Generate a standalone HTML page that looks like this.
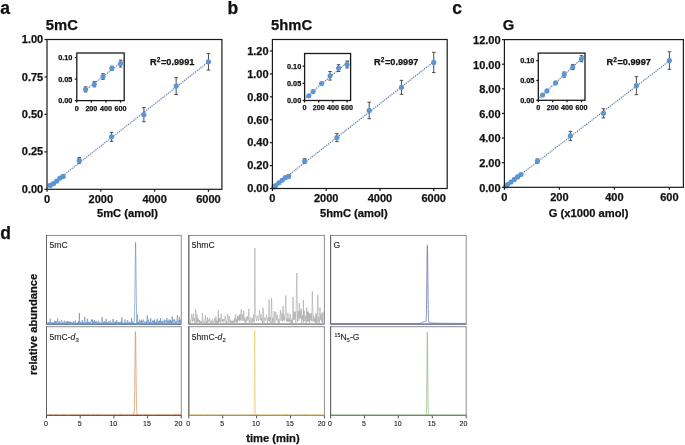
<!DOCTYPE html>
<html><head><meta charset="utf-8"><style>
html,body{margin:0;padding:0;background:#fff;}
body{width:685px;height:445px;overflow:hidden;font-family:"Liberation Sans", sans-serif;}
svg{display:block;will-change:transform;}
</style></head><body>
<svg width="685" height="445" viewBox="0 0 685 445" font-family='"Liberation Sans", sans-serif'>
<rect width="685" height="445" fill="#fff"/>
<text x="0.20" y="13.60" font-size="17.5" font-weight="bold" text-anchor="start" fill="#111" stroke="#111" stroke-width="0.25" >a</text>
<text x="227.60" y="13.60" font-size="17.5" font-weight="bold" text-anchor="start" fill="#111" stroke="#111" stroke-width="0.25" >b</text>
<text x="452.30" y="13.60" font-size="17.5" font-weight="bold" text-anchor="start" fill="#111" stroke="#111" stroke-width="0.25" >c</text>
<text x="0.20" y="238.60" font-size="17.5" font-weight="bold" text-anchor="start" fill="#111" stroke="#111" stroke-width="0.25" >d</text>
<text x="45.80" y="29.70" font-size="14.8" font-weight="bold" text-anchor="start" fill="#111" stroke="#111" stroke-width="0.25" >5mC</text>
<text x="271.00" y="29.70" font-size="14.8" font-weight="bold" text-anchor="start" fill="#111" stroke="#111" stroke-width="0.25" >5hmC</text>
<text x="502.80" y="29.70" font-size="14.8" font-weight="bold" text-anchor="start" fill="#111" stroke="#111" stroke-width="0.25" >G</text>
<line x1="47.00" y1="188.13" x2="208.45" y2="61.81" stroke="#dce8f6" stroke-width="1.6"/>
<line x1="47.00" y1="188.13" x2="208.45" y2="61.81" stroke="#56657c" stroke-width="1.1" stroke-linecap="round" stroke-dasharray="0 2.3"/>
<line x1="79.29" y1="157.54" x2="79.29" y2="163.23" stroke="#4d4d4d" stroke-width="1.0" />
<line x1="77.49" y1="157.54" x2="81.09" y2="157.54" stroke="#4d4d4d" stroke-width="1.0" />
<line x1="77.49" y1="163.23" x2="81.09" y2="163.23" stroke="#4d4d4d" stroke-width="1.0" />
<line x1="111.58" y1="132.38" x2="111.58" y2="141.36" stroke="#4d4d4d" stroke-width="1.0" />
<line x1="109.78" y1="132.38" x2="113.38" y2="132.38" stroke="#4d4d4d" stroke-width="1.0" />
<line x1="109.78" y1="141.36" x2="113.38" y2="141.36" stroke="#4d4d4d" stroke-width="1.0" />
<line x1="143.87" y1="107.66" x2="143.87" y2="121.74" stroke="#4d4d4d" stroke-width="1.0" />
<line x1="142.07" y1="107.66" x2="145.67" y2="107.66" stroke="#4d4d4d" stroke-width="1.0" />
<line x1="142.07" y1="121.74" x2="145.67" y2="121.74" stroke="#4d4d4d" stroke-width="1.0" />
<line x1="176.16" y1="77.70" x2="176.16" y2="94.48" stroke="#4d4d4d" stroke-width="1.0" />
<line x1="174.36" y1="77.70" x2="177.96" y2="77.70" stroke="#4d4d4d" stroke-width="1.0" />
<line x1="174.36" y1="94.48" x2="177.96" y2="94.48" stroke="#4d4d4d" stroke-width="1.0" />
<line x1="208.45" y1="53.58" x2="208.45" y2="70.06" stroke="#4d4d4d" stroke-width="1.0" />
<line x1="206.65" y1="53.58" x2="210.25" y2="53.58" stroke="#4d4d4d" stroke-width="1.0" />
<line x1="206.65" y1="70.06" x2="210.25" y2="70.06" stroke="#4d4d4d" stroke-width="1.0" />
<circle cx="50.23" cy="185.41" r="2.6" fill="#5c95d3"/>
<circle cx="53.46" cy="183.61" r="2.6" fill="#5c95d3"/>
<circle cx="56.69" cy="181.06" r="2.6" fill="#5c95d3"/>
<circle cx="59.92" cy="178.06" r="2.6" fill="#5c95d3"/>
<circle cx="63.14" cy="176.42" r="2.6" fill="#5c95d3"/>
<circle cx="79.29" cy="160.39" r="2.6" fill="#5c95d3"/>
<circle cx="111.58" cy="136.87" r="2.6" fill="#5c95d3"/>
<circle cx="143.87" cy="114.70" r="2.6" fill="#5c95d3"/>
<circle cx="176.16" cy="86.09" r="2.6" fill="#5c95d3"/>
<circle cx="208.45" cy="61.82" r="2.6" fill="#5c95d3"/>
<rect x="47.00" y="39.50" width="174.90" height="149.80" fill="none" stroke="#1a1a1a" stroke-width="1.2"/>
<line x1="47.00" y1="189.30" x2="47.00" y2="191.80" stroke="#1a1a1a" stroke-width="1.2" />
<text x="47.00" y="202.60" font-size="11" font-weight="bold" text-anchor="middle" fill="#111" stroke="#111" stroke-width="0.25" >0</text>
<line x1="100.82" y1="189.30" x2="100.82" y2="191.80" stroke="#1a1a1a" stroke-width="1.2" />
<text x="100.82" y="202.60" font-size="11" font-weight="bold" text-anchor="middle" fill="#111" stroke="#111" stroke-width="0.25" >2000</text>
<line x1="154.63" y1="189.30" x2="154.63" y2="191.80" stroke="#1a1a1a" stroke-width="1.2" />
<text x="154.63" y="202.60" font-size="11" font-weight="bold" text-anchor="middle" fill="#111" stroke="#111" stroke-width="0.25" >4000</text>
<line x1="208.45" y1="189.30" x2="208.45" y2="191.80" stroke="#1a1a1a" stroke-width="1.2" />
<text x="208.45" y="202.60" font-size="11" font-weight="bold" text-anchor="middle" fill="#111" stroke="#111" stroke-width="0.25" >6000</text>
<line x1="44.50" y1="189.30" x2="47.00" y2="189.30" stroke="#1a1a1a" stroke-width="1.2" />
<text x="43.20" y="192.93" font-size="11" font-weight="bold" text-anchor="end" fill="#111" stroke="#111" stroke-width="0.25" >0.00</text>
<line x1="44.50" y1="151.85" x2="47.00" y2="151.85" stroke="#1a1a1a" stroke-width="1.2" />
<text x="43.20" y="155.48" font-size="11" font-weight="bold" text-anchor="end" fill="#111" stroke="#111" stroke-width="0.25" >0.25</text>
<line x1="44.50" y1="114.40" x2="47.00" y2="114.40" stroke="#1a1a1a" stroke-width="1.2" />
<text x="43.20" y="118.03" font-size="11" font-weight="bold" text-anchor="end" fill="#111" stroke="#111" stroke-width="0.25" >0.50</text>
<line x1="44.50" y1="76.95" x2="47.00" y2="76.95" stroke="#1a1a1a" stroke-width="1.2" />
<text x="43.20" y="80.58" font-size="11" font-weight="bold" text-anchor="end" fill="#111" stroke="#111" stroke-width="0.25" >0.75</text>
<line x1="44.50" y1="39.50" x2="47.00" y2="39.50" stroke="#1a1a1a" stroke-width="1.2" />
<text x="43.20" y="43.13" font-size="11" font-weight="bold" text-anchor="end" fill="#111" stroke="#111" stroke-width="0.25" >1.00</text>
<line x1="85.55" y1="89.94" x2="124.20" y2="60.12" stroke="#dce8f6" stroke-width="1.6"/>
<line x1="85.55" y1="89.94" x2="124.20" y2="60.12" stroke="#56657c" stroke-width="1.1" stroke-linecap="round" stroke-dasharray="0 2.3"/>
<line x1="85.55" y1="86.84" x2="85.55" y2="92.00" stroke="#4d4d4d" stroke-width="1.0" />
<line x1="83.85" y1="86.84" x2="87.25" y2="86.84" stroke="#4d4d4d" stroke-width="1.0" />
<line x1="83.85" y1="92.00" x2="87.25" y2="92.00" stroke="#4d4d4d" stroke-width="1.0" />
<line x1="94.30" y1="81.68" x2="94.30" y2="86.84" stroke="#4d4d4d" stroke-width="1.0" />
<line x1="92.60" y1="81.68" x2="96.00" y2="81.68" stroke="#4d4d4d" stroke-width="1.0" />
<line x1="92.60" y1="86.84" x2="96.00" y2="86.84" stroke="#4d4d4d" stroke-width="1.0" />
<line x1="103.05" y1="73.73" x2="103.05" y2="79.32" stroke="#4d4d4d" stroke-width="1.0" />
<line x1="101.35" y1="73.73" x2="104.75" y2="73.73" stroke="#4d4d4d" stroke-width="1.0" />
<line x1="101.35" y1="79.32" x2="104.75" y2="79.32" stroke="#4d4d4d" stroke-width="1.0" />
<line x1="111.80" y1="66.20" x2="111.80" y2="70.50" stroke="#4d4d4d" stroke-width="1.0" />
<line x1="110.10" y1="66.20" x2="113.50" y2="66.20" stroke="#4d4d4d" stroke-width="1.0" />
<line x1="110.10" y1="70.50" x2="113.50" y2="70.50" stroke="#4d4d4d" stroke-width="1.0" />
<line x1="120.55" y1="60.18" x2="120.55" y2="67.06" stroke="#4d4d4d" stroke-width="1.0" />
<line x1="118.85" y1="60.18" x2="122.25" y2="60.18" stroke="#4d4d4d" stroke-width="1.0" />
<line x1="118.85" y1="67.06" x2="122.25" y2="67.06" stroke="#4d4d4d" stroke-width="1.0" />
<circle cx="85.55" cy="89.42" r="2.55" fill="#5c95d3"/>
<circle cx="94.30" cy="84.26" r="2.55" fill="#5c95d3"/>
<circle cx="103.05" cy="76.52" r="2.55" fill="#5c95d3"/>
<circle cx="111.80" cy="68.35" r="2.55" fill="#5c95d3"/>
<circle cx="120.55" cy="63.62" r="2.55" fill="#5c95d3"/>
<rect x="76.80" y="53.00" width="47.40" height="47.60" fill="none" stroke="#1a1a1a" stroke-width="1.3"/>
<line x1="76.80" y1="100.60" x2="76.80" y2="102.60" stroke="#1a1a1a" stroke-width="1.3" />
<text x="76.80" y="110.50" font-size="7.2" font-weight="bold" text-anchor="middle" fill="#111" stroke="#111" stroke-width="0.25" >0</text>
<line x1="91.38" y1="100.60" x2="91.38" y2="102.60" stroke="#1a1a1a" stroke-width="1.3" />
<text x="91.38" y="110.50" font-size="7.2" font-weight="bold" text-anchor="middle" fill="#111" stroke="#111" stroke-width="0.25" >200</text>
<line x1="105.97" y1="100.60" x2="105.97" y2="102.60" stroke="#1a1a1a" stroke-width="1.3" />
<text x="105.97" y="110.50" font-size="7.2" font-weight="bold" text-anchor="middle" fill="#111" stroke="#111" stroke-width="0.25" >400</text>
<line x1="120.55" y1="100.60" x2="120.55" y2="102.60" stroke="#1a1a1a" stroke-width="1.3" />
<text x="120.55" y="110.50" font-size="7.2" font-weight="bold" text-anchor="middle" fill="#111" stroke="#111" stroke-width="0.25" >600</text>
<line x1="74.80" y1="100.60" x2="76.80" y2="100.60" stroke="#1a1a1a" stroke-width="1.3" />
<text x="72.40" y="103.23" font-size="7.3" font-weight="bold" text-anchor="end" fill="#111" stroke="#111" stroke-width="0.25" >0.00</text>
<line x1="74.80" y1="79.10" x2="76.80" y2="79.10" stroke="#1a1a1a" stroke-width="1.3" />
<text x="72.40" y="81.73" font-size="7.3" font-weight="bold" text-anchor="end" fill="#111" stroke="#111" stroke-width="0.25" >0.05</text>
<line x1="74.80" y1="57.60" x2="76.80" y2="57.60" stroke="#1a1a1a" stroke-width="1.3" />
<text x="72.40" y="60.23" font-size="7.3" font-weight="bold" text-anchor="end" fill="#111" stroke="#111" stroke-width="0.25" >0.10</text>
<text x="150.00" y="65.00" font-size="9.2" font-weight="bold" text-anchor="start" fill="#111" stroke="#111" stroke-width="0.25" >R<tspan font-size="6.5" dy="-2.6">2</tspan><tspan dy="2.6" dx="0.7">=0.9991</tspan></text>
<line x1="272.40" y1="187.82" x2="433.75" y2="61.69" stroke="#dce8f6" stroke-width="1.6"/>
<line x1="272.40" y1="187.82" x2="433.75" y2="61.69" stroke="#56657c" stroke-width="1.1" stroke-linecap="round" stroke-dasharray="0 2.3"/>
<line x1="304.67" y1="158.71" x2="304.67" y2="163.29" stroke="#4d4d4d" stroke-width="1.0" />
<line x1="302.87" y1="158.71" x2="306.47" y2="158.71" stroke="#4d4d4d" stroke-width="1.0" />
<line x1="302.87" y1="163.29" x2="306.47" y2="163.29" stroke="#4d4d4d" stroke-width="1.0" />
<line x1="336.94" y1="133.61" x2="336.94" y2="141.63" stroke="#4d4d4d" stroke-width="1.0" />
<line x1="335.14" y1="133.61" x2="338.74" y2="133.61" stroke="#4d4d4d" stroke-width="1.0" />
<line x1="335.14" y1="141.63" x2="338.74" y2="141.63" stroke="#4d4d4d" stroke-width="1.0" />
<line x1="369.21" y1="102.21" x2="369.21" y2="118.71" stroke="#4d4d4d" stroke-width="1.0" />
<line x1="367.41" y1="102.21" x2="371.01" y2="102.21" stroke="#4d4d4d" stroke-width="1.0" />
<line x1="367.41" y1="118.71" x2="371.01" y2="118.71" stroke="#4d4d4d" stroke-width="1.0" />
<line x1="401.48" y1="80.33" x2="401.48" y2="94.31" stroke="#4d4d4d" stroke-width="1.0" />
<line x1="399.68" y1="80.33" x2="403.28" y2="80.33" stroke="#4d4d4d" stroke-width="1.0" />
<line x1="399.68" y1="94.31" x2="403.28" y2="94.31" stroke="#4d4d4d" stroke-width="1.0" />
<line x1="433.75" y1="52.31" x2="433.75" y2="72.59" stroke="#4d4d4d" stroke-width="1.0" />
<line x1="431.95" y1="52.31" x2="435.55" y2="52.31" stroke="#4d4d4d" stroke-width="1.0" />
<line x1="431.95" y1="72.59" x2="435.55" y2="72.59" stroke="#4d4d4d" stroke-width="1.0" />
<circle cx="274.01" cy="186.93" r="2.6" fill="#5c95d3"/>
<circle cx="275.63" cy="185.52" r="2.6" fill="#5c95d3"/>
<circle cx="278.85" cy="182.80" r="2.6" fill="#5c95d3"/>
<circle cx="282.08" cy="180.25" r="2.6" fill="#5c95d3"/>
<circle cx="285.31" cy="177.67" r="2.6" fill="#5c95d3"/>
<circle cx="288.54" cy="176.47" r="2.6" fill="#5c95d3"/>
<circle cx="304.67" cy="161.00" r="2.6" fill="#5c95d3"/>
<circle cx="336.94" cy="137.62" r="2.6" fill="#5c95d3"/>
<circle cx="369.21" cy="110.46" r="2.6" fill="#5c95d3"/>
<circle cx="401.48" cy="87.32" r="2.6" fill="#5c95d3"/>
<circle cx="433.75" cy="62.45" r="2.6" fill="#5c95d3"/>
<rect x="272.40" y="39.50" width="174.80" height="149.00" fill="none" stroke="#1a1a1a" stroke-width="1.2"/>
<line x1="272.40" y1="188.50" x2="272.40" y2="191.00" stroke="#1a1a1a" stroke-width="1.2" />
<text x="272.40" y="201.80" font-size="11" font-weight="bold" text-anchor="middle" fill="#111" stroke="#111" stroke-width="0.25" >0</text>
<line x1="326.18" y1="188.50" x2="326.18" y2="191.00" stroke="#1a1a1a" stroke-width="1.2" />
<text x="326.18" y="201.80" font-size="11" font-weight="bold" text-anchor="middle" fill="#111" stroke="#111" stroke-width="0.25" >2000</text>
<line x1="379.97" y1="188.50" x2="379.97" y2="191.00" stroke="#1a1a1a" stroke-width="1.2" />
<text x="379.97" y="201.80" font-size="11" font-weight="bold" text-anchor="middle" fill="#111" stroke="#111" stroke-width="0.25" >4000</text>
<line x1="433.75" y1="188.50" x2="433.75" y2="191.00" stroke="#1a1a1a" stroke-width="1.2" />
<text x="433.75" y="201.80" font-size="11" font-weight="bold" text-anchor="middle" fill="#111" stroke="#111" stroke-width="0.25" >6000</text>
<line x1="269.90" y1="188.50" x2="272.40" y2="188.50" stroke="#1a1a1a" stroke-width="1.2" />
<text x="268.60" y="192.29" font-size="11" font-weight="bold" text-anchor="end" fill="#111" stroke="#111" stroke-width="0.25" >0.00</text>
<line x1="269.90" y1="165.58" x2="272.40" y2="165.58" stroke="#1a1a1a" stroke-width="1.2" />
<text x="268.60" y="169.38" font-size="11" font-weight="bold" text-anchor="end" fill="#111" stroke="#111" stroke-width="0.25" >0.20</text>
<line x1="269.90" y1="142.66" x2="272.40" y2="142.66" stroke="#1a1a1a" stroke-width="1.2" />
<text x="268.60" y="146.46" font-size="11" font-weight="bold" text-anchor="end" fill="#111" stroke="#111" stroke-width="0.25" >0.40</text>
<line x1="269.90" y1="119.75" x2="272.40" y2="119.75" stroke="#1a1a1a" stroke-width="1.2" />
<text x="268.60" y="123.54" font-size="11" font-weight="bold" text-anchor="end" fill="#111" stroke="#111" stroke-width="0.25" >0.60</text>
<line x1="269.90" y1="96.83" x2="272.40" y2="96.83" stroke="#1a1a1a" stroke-width="1.2" />
<text x="268.60" y="100.62" font-size="11" font-weight="bold" text-anchor="end" fill="#111" stroke="#111" stroke-width="0.25" >0.80</text>
<line x1="269.90" y1="73.91" x2="272.40" y2="73.91" stroke="#1a1a1a" stroke-width="1.2" />
<text x="268.60" y="77.71" font-size="11" font-weight="bold" text-anchor="end" fill="#111" stroke="#111" stroke-width="0.25" >1.00</text>
<line x1="269.90" y1="50.99" x2="272.40" y2="50.99" stroke="#1a1a1a" stroke-width="1.2" />
<text x="268.60" y="54.79" font-size="11" font-weight="bold" text-anchor="end" fill="#111" stroke="#111" stroke-width="0.25" >1.20</text>
<line x1="304.60" y1="98.45" x2="350.60" y2="59.48" stroke="#dce8f6" stroke-width="1.6"/>
<line x1="304.60" y1="98.45" x2="350.60" y2="59.48" stroke="#56657c" stroke-width="1.1" stroke-linecap="round" stroke-dasharray="0 2.3"/>
<line x1="308.85" y1="95.11" x2="308.85" y2="96.49" stroke="#4d4d4d" stroke-width="1.0" />
<line x1="307.15" y1="95.11" x2="310.55" y2="95.11" stroke="#4d4d4d" stroke-width="1.0" />
<line x1="307.15" y1="96.49" x2="310.55" y2="96.49" stroke="#4d4d4d" stroke-width="1.0" />
<line x1="313.09" y1="90.55" x2="313.09" y2="92.61" stroke="#4d4d4d" stroke-width="1.0" />
<line x1="311.39" y1="90.55" x2="314.79" y2="90.55" stroke="#4d4d4d" stroke-width="1.0" />
<line x1="311.39" y1="92.61" x2="314.79" y2="92.61" stroke="#4d4d4d" stroke-width="1.0" />
<line x1="321.58" y1="82.42" x2="321.58" y2="84.48" stroke="#4d4d4d" stroke-width="1.0" />
<line x1="319.88" y1="82.42" x2="323.28" y2="82.42" stroke="#4d4d4d" stroke-width="1.0" />
<line x1="319.88" y1="84.48" x2="323.28" y2="84.48" stroke="#4d4d4d" stroke-width="1.0" />
<line x1="330.08" y1="71.51" x2="330.08" y2="80.09" stroke="#4d4d4d" stroke-width="1.0" />
<line x1="328.38" y1="71.51" x2="331.78" y2="71.51" stroke="#4d4d4d" stroke-width="1.0" />
<line x1="328.38" y1="80.09" x2="331.78" y2="80.09" stroke="#4d4d4d" stroke-width="1.0" />
<line x1="338.57" y1="64.65" x2="338.57" y2="71.51" stroke="#4d4d4d" stroke-width="1.0" />
<line x1="336.87" y1="64.65" x2="340.27" y2="64.65" stroke="#4d4d4d" stroke-width="1.0" />
<line x1="336.87" y1="71.51" x2="340.27" y2="71.51" stroke="#4d4d4d" stroke-width="1.0" />
<line x1="347.06" y1="61.05" x2="347.06" y2="67.91" stroke="#4d4d4d" stroke-width="1.0" />
<line x1="345.36" y1="61.05" x2="348.76" y2="61.05" stroke="#4d4d4d" stroke-width="1.0" />
<line x1="345.36" y1="67.91" x2="348.76" y2="67.91" stroke="#4d4d4d" stroke-width="1.0" />
<circle cx="308.85" cy="95.80" r="2.55" fill="#5c95d3"/>
<circle cx="313.09" cy="91.58" r="2.55" fill="#5c95d3"/>
<circle cx="321.58" cy="83.45" r="2.55" fill="#5c95d3"/>
<circle cx="330.08" cy="75.80" r="2.55" fill="#5c95d3"/>
<circle cx="338.57" cy="68.08" r="2.55" fill="#5c95d3"/>
<circle cx="347.06" cy="64.48" r="2.55" fill="#5c95d3"/>
<rect x="304.60" y="53.50" width="46.00" height="47.00" fill="none" stroke="#1a1a1a" stroke-width="1.3"/>
<line x1="304.60" y1="100.50" x2="304.60" y2="102.50" stroke="#1a1a1a" stroke-width="1.3" />
<text x="304.60" y="110.40" font-size="7.2" font-weight="bold" text-anchor="middle" fill="#111" stroke="#111" stroke-width="0.25" >0</text>
<line x1="318.75" y1="100.50" x2="318.75" y2="102.50" stroke="#1a1a1a" stroke-width="1.3" />
<text x="318.75" y="110.40" font-size="7.2" font-weight="bold" text-anchor="middle" fill="#111" stroke="#111" stroke-width="0.25" >200</text>
<line x1="332.91" y1="100.50" x2="332.91" y2="102.50" stroke="#1a1a1a" stroke-width="1.3" />
<text x="332.91" y="110.40" font-size="7.2" font-weight="bold" text-anchor="middle" fill="#111" stroke="#111" stroke-width="0.25" >400</text>
<line x1="347.06" y1="100.50" x2="347.06" y2="102.50" stroke="#1a1a1a" stroke-width="1.3" />
<text x="347.06" y="110.40" font-size="7.2" font-weight="bold" text-anchor="middle" fill="#111" stroke="#111" stroke-width="0.25" >600</text>
<line x1="302.60" y1="100.50" x2="304.60" y2="100.50" stroke="#1a1a1a" stroke-width="1.3" />
<text x="301.20" y="103.13" font-size="7.3" font-weight="bold" text-anchor="end" fill="#111" stroke="#111" stroke-width="0.25" >0.00</text>
<line x1="302.60" y1="83.35" x2="304.60" y2="83.35" stroke="#1a1a1a" stroke-width="1.3" />
<text x="301.20" y="85.97" font-size="7.3" font-weight="bold" text-anchor="end" fill="#111" stroke="#111" stroke-width="0.25" >0.05</text>
<line x1="302.60" y1="66.19" x2="304.60" y2="66.19" stroke="#1a1a1a" stroke-width="1.3" />
<text x="301.20" y="68.82" font-size="7.3" font-weight="bold" text-anchor="end" fill="#111" stroke="#111" stroke-width="0.25" >0.10</text>
<text x="374.00" y="65.00" font-size="9.2" font-weight="bold" text-anchor="start" fill="#111" stroke="#111" stroke-width="0.25" >R<tspan font-size="6.5" dy="-2.6">2</tspan><tspan dy="2.6" dx="0.7">=0.9997</tspan></text>
<line x1="504.40" y1="187.03" x2="669.38" y2="60.89" stroke="#dce8f6" stroke-width="1.6"/>
<line x1="504.40" y1="187.03" x2="669.38" y2="60.89" stroke="#56657c" stroke-width="1.1" stroke-linecap="round" stroke-dasharray="0 2.3"/>
<line x1="537.40" y1="158.99" x2="537.40" y2="163.18" stroke="#4d4d4d" stroke-width="1.0" />
<line x1="535.60" y1="158.99" x2="539.20" y2="158.99" stroke="#4d4d4d" stroke-width="1.0" />
<line x1="535.60" y1="163.18" x2="539.20" y2="163.18" stroke="#4d4d4d" stroke-width="1.0" />
<line x1="570.39" y1="131.30" x2="570.39" y2="140.41" stroke="#4d4d4d" stroke-width="1.0" />
<line x1="568.59" y1="131.30" x2="572.19" y2="131.30" stroke="#4d4d4d" stroke-width="1.0" />
<line x1="568.59" y1="140.41" x2="572.19" y2="140.41" stroke="#4d4d4d" stroke-width="1.0" />
<line x1="603.39" y1="108.77" x2="603.39" y2="117.88" stroke="#4d4d4d" stroke-width="1.0" />
<line x1="601.59" y1="108.77" x2="605.19" y2="108.77" stroke="#4d4d4d" stroke-width="1.0" />
<line x1="601.59" y1="117.88" x2="605.19" y2="117.88" stroke="#4d4d4d" stroke-width="1.0" />
<line x1="636.38" y1="76.65" x2="636.38" y2="94.62" stroke="#4d4d4d" stroke-width="1.0" />
<line x1="634.58" y1="76.65" x2="638.18" y2="76.65" stroke="#4d4d4d" stroke-width="1.0" />
<line x1="634.58" y1="94.62" x2="638.18" y2="94.62" stroke="#4d4d4d" stroke-width="1.0" />
<line x1="669.38" y1="51.79" x2="669.38" y2="69.26" stroke="#4d4d4d" stroke-width="1.0" />
<line x1="667.58" y1="51.79" x2="671.18" y2="51.79" stroke="#4d4d4d" stroke-width="1.0" />
<line x1="667.58" y1="69.26" x2="671.18" y2="69.26" stroke="#4d4d4d" stroke-width="1.0" />
<circle cx="506.05" cy="185.95" r="2.6" fill="#5c95d3"/>
<circle cx="507.70" cy="184.59" r="2.6" fill="#5c95d3"/>
<circle cx="511.00" cy="182.01" r="2.6" fill="#5c95d3"/>
<circle cx="514.30" cy="179.42" r="2.6" fill="#5c95d3"/>
<circle cx="517.60" cy="176.96" r="2.6" fill="#5c95d3"/>
<circle cx="520.90" cy="174.50" r="2.6" fill="#5c95d3"/>
<circle cx="537.40" cy="161.08" r="2.6" fill="#5c95d3"/>
<circle cx="570.39" cy="135.85" r="2.6" fill="#5c95d3"/>
<circle cx="603.39" cy="113.33" r="2.6" fill="#5c95d3"/>
<circle cx="636.38" cy="85.63" r="2.6" fill="#5c95d3"/>
<circle cx="669.38" cy="60.52" r="2.6" fill="#5c95d3"/>
<rect x="504.40" y="39.60" width="179.00" height="147.70" fill="none" stroke="#1a1a1a" stroke-width="1.2"/>
<line x1="504.40" y1="187.30" x2="504.40" y2="189.80" stroke="#1a1a1a" stroke-width="1.2" />
<text x="504.40" y="200.60" font-size="11" font-weight="bold" text-anchor="middle" fill="#111" stroke="#111" stroke-width="0.25" >0</text>
<line x1="559.39" y1="187.30" x2="559.39" y2="189.80" stroke="#1a1a1a" stroke-width="1.2" />
<text x="559.39" y="200.60" font-size="11" font-weight="bold" text-anchor="middle" fill="#111" stroke="#111" stroke-width="0.25" >200</text>
<line x1="614.38" y1="187.30" x2="614.38" y2="189.80" stroke="#1a1a1a" stroke-width="1.2" />
<text x="614.38" y="200.60" font-size="11" font-weight="bold" text-anchor="middle" fill="#111" stroke="#111" stroke-width="0.25" >400</text>
<line x1="669.38" y1="187.30" x2="669.38" y2="189.80" stroke="#1a1a1a" stroke-width="1.2" />
<text x="669.38" y="200.60" font-size="11" font-weight="bold" text-anchor="middle" fill="#111" stroke="#111" stroke-width="0.25" >600</text>
<line x1="501.90" y1="187.30" x2="504.40" y2="187.30" stroke="#1a1a1a" stroke-width="1.2" />
<text x="500.60" y="191.59" font-size="11" font-weight="bold" text-anchor="end" fill="#111" stroke="#111" stroke-width="0.25" >0.00</text>
<line x1="501.90" y1="162.68" x2="504.40" y2="162.68" stroke="#1a1a1a" stroke-width="1.2" />
<text x="500.60" y="166.97" font-size="11" font-weight="bold" text-anchor="end" fill="#111" stroke="#111" stroke-width="0.25" >2.00</text>
<line x1="501.90" y1="138.07" x2="504.40" y2="138.07" stroke="#1a1a1a" stroke-width="1.2" />
<text x="500.60" y="142.36" font-size="11" font-weight="bold" text-anchor="end" fill="#111" stroke="#111" stroke-width="0.25" >4.00</text>
<line x1="501.90" y1="113.45" x2="504.40" y2="113.45" stroke="#1a1a1a" stroke-width="1.2" />
<text x="500.60" y="117.74" font-size="11" font-weight="bold" text-anchor="end" fill="#111" stroke="#111" stroke-width="0.25" >6.00</text>
<line x1="501.90" y1="88.83" x2="504.40" y2="88.83" stroke="#1a1a1a" stroke-width="1.2" />
<text x="500.60" y="93.12" font-size="11" font-weight="bold" text-anchor="end" fill="#111" stroke="#111" stroke-width="0.25" >8.00</text>
<line x1="501.90" y1="64.22" x2="504.40" y2="64.22" stroke="#1a1a1a" stroke-width="1.2" />
<text x="500.60" y="68.51" font-size="11" font-weight="bold" text-anchor="end" fill="#111" stroke="#111" stroke-width="0.25" >10.00</text>
<line x1="501.90" y1="39.60" x2="504.40" y2="39.60" stroke="#1a1a1a" stroke-width="1.2" />
<text x="500.60" y="43.89" font-size="11" font-weight="bold" text-anchor="end" fill="#111" stroke="#111" stroke-width="0.25" >12.00</text>
<line x1="538.30" y1="98.95" x2="585.00" y2="55.41" stroke="#dce8f6" stroke-width="1.6"/>
<line x1="538.30" y1="98.95" x2="585.00" y2="55.41" stroke="#56657c" stroke-width="1.1" stroke-linecap="round" stroke-dasharray="0 2.3"/>
<line x1="542.61" y1="94.60" x2="542.61" y2="95.39" stroke="#4d4d4d" stroke-width="1.0" />
<line x1="540.91" y1="94.60" x2="544.31" y2="94.60" stroke="#4d4d4d" stroke-width="1.0" />
<line x1="540.91" y1="95.39" x2="544.31" y2="95.39" stroke="#4d4d4d" stroke-width="1.0" />
<line x1="546.92" y1="90.12" x2="546.92" y2="91.71" stroke="#4d4d4d" stroke-width="1.0" />
<line x1="545.22" y1="90.12" x2="548.62" y2="90.12" stroke="#4d4d4d" stroke-width="1.0" />
<line x1="545.22" y1="91.71" x2="548.62" y2="91.71" stroke="#4d4d4d" stroke-width="1.0" />
<line x1="555.54" y1="82.09" x2="555.54" y2="83.67" stroke="#4d4d4d" stroke-width="1.0" />
<line x1="553.84" y1="82.09" x2="557.24" y2="82.09" stroke="#4d4d4d" stroke-width="1.0" />
<line x1="553.84" y1="83.67" x2="557.24" y2="83.67" stroke="#4d4d4d" stroke-width="1.0" />
<line x1="564.16" y1="71.99" x2="564.16" y2="77.14" stroke="#4d4d4d" stroke-width="1.0" />
<line x1="562.46" y1="71.99" x2="565.86" y2="71.99" stroke="#4d4d4d" stroke-width="1.0" />
<line x1="562.46" y1="77.14" x2="565.86" y2="77.14" stroke="#4d4d4d" stroke-width="1.0" />
<line x1="572.79" y1="64.46" x2="572.79" y2="69.61" stroke="#4d4d4d" stroke-width="1.0" />
<line x1="571.09" y1="64.46" x2="574.49" y2="64.46" stroke="#4d4d4d" stroke-width="1.0" />
<line x1="571.09" y1="69.61" x2="574.49" y2="69.61" stroke="#4d4d4d" stroke-width="1.0" />
<line x1="581.41" y1="55.67" x2="581.41" y2="61.77" stroke="#4d4d4d" stroke-width="1.0" />
<line x1="579.71" y1="55.67" x2="583.11" y2="55.67" stroke="#4d4d4d" stroke-width="1.0" />
<line x1="579.71" y1="61.77" x2="583.11" y2="61.77" stroke="#4d4d4d" stroke-width="1.0" />
<circle cx="542.61" cy="94.99" r="2.55" fill="#5c95d3"/>
<circle cx="546.92" cy="90.92" r="2.55" fill="#5c95d3"/>
<circle cx="555.54" cy="82.88" r="2.55" fill="#5c95d3"/>
<circle cx="564.16" cy="74.56" r="2.55" fill="#5c95d3"/>
<circle cx="572.79" cy="67.04" r="2.55" fill="#5c95d3"/>
<circle cx="581.41" cy="58.72" r="2.55" fill="#5c95d3"/>
<rect x="538.30" y="53.10" width="46.70" height="47.20" fill="none" stroke="#1a1a1a" stroke-width="1.3"/>
<line x1="538.30" y1="100.30" x2="538.30" y2="102.30" stroke="#1a1a1a" stroke-width="1.3" />
<text x="538.30" y="110.20" font-size="7.2" font-weight="bold" text-anchor="middle" fill="#111" stroke="#111" stroke-width="0.25" >0</text>
<line x1="552.67" y1="100.30" x2="552.67" y2="102.30" stroke="#1a1a1a" stroke-width="1.3" />
<text x="552.67" y="110.20" font-size="7.2" font-weight="bold" text-anchor="middle" fill="#111" stroke="#111" stroke-width="0.25" >200</text>
<line x1="567.04" y1="100.30" x2="567.04" y2="102.30" stroke="#1a1a1a" stroke-width="1.3" />
<text x="567.04" y="110.20" font-size="7.2" font-weight="bold" text-anchor="middle" fill="#111" stroke="#111" stroke-width="0.25" >400</text>
<line x1="581.41" y1="100.30" x2="581.41" y2="102.30" stroke="#1a1a1a" stroke-width="1.3" />
<text x="581.41" y="110.20" font-size="7.2" font-weight="bold" text-anchor="middle" fill="#111" stroke="#111" stroke-width="0.25" >600</text>
<line x1="536.30" y1="100.30" x2="538.30" y2="100.30" stroke="#1a1a1a" stroke-width="1.3" />
<text x="534.40" y="102.93" font-size="7.3" font-weight="bold" text-anchor="end" fill="#111" stroke="#111" stroke-width="0.25" >0.00</text>
<line x1="536.30" y1="80.50" x2="538.30" y2="80.50" stroke="#1a1a1a" stroke-width="1.3" />
<text x="534.40" y="83.13" font-size="7.3" font-weight="bold" text-anchor="end" fill="#111" stroke="#111" stroke-width="0.25" >0.05</text>
<line x1="536.30" y1="60.70" x2="538.30" y2="60.70" stroke="#1a1a1a" stroke-width="1.3" />
<text x="534.40" y="63.33" font-size="7.3" font-weight="bold" text-anchor="end" fill="#111" stroke="#111" stroke-width="0.25" >0.10</text>
<text x="606.50" y="65.00" font-size="9.2" font-weight="bold" text-anchor="start" fill="#111" stroke="#111" stroke-width="0.25" >R<tspan font-size="6.5" dy="-2.6">2</tspan><tspan dy="2.6" dx="0.7">=0.9997</tspan></text>
<text x="127.40" y="217.10" font-size="11.2" font-weight="bold" text-anchor="middle" fill="#111" stroke="#111" stroke-width="0.25" >5mC (amol)</text>
<text x="353.80" y="217.10" font-size="11.2" font-weight="bold" text-anchor="middle" fill="#111" stroke="#111" stroke-width="0.25" >5hmC (amol)</text>
<text x="588.60" y="217.10" font-size="11.2" font-weight="bold" text-anchor="middle" fill="#111" stroke="#111" stroke-width="0.25" >G (x1000 amol)</text>
<rect x="46.50" y="235.40" width="134.80" height="88.70" fill="none" stroke="#8c8c8c" stroke-width="1"/>
<line x1="46.50" y1="234.90" x2="46.50" y2="324.60" stroke="#666" stroke-width="1.05" />
<line x1="46.50" y1="324.10" x2="181.30" y2="324.10" stroke="#4d6f9c" stroke-width="1.1" />
<rect x="188.80" y="235.40" width="135.60" height="88.70" fill="none" stroke="#8c8c8c" stroke-width="1"/>
<line x1="188.80" y1="234.90" x2="188.80" y2="324.60" stroke="#666" stroke-width="1.05" />
<line x1="188.80" y1="324.10" x2="324.40" y2="324.10" stroke="#8f8f8f" stroke-width="1.1" />
<rect x="330.60" y="235.40" width="135.60" height="88.70" fill="none" stroke="#8c8c8c" stroke-width="1"/>
<line x1="330.60" y1="234.90" x2="330.60" y2="324.60" stroke="#666" stroke-width="1.05" />
<line x1="330.60" y1="324.10" x2="466.20" y2="324.10" stroke="#6c74a0" stroke-width="1.1" />
<rect x="46.50" y="326.70" width="134.80" height="88.70" fill="none" stroke="#8c8c8c" stroke-width="1"/>
<line x1="46.50" y1="326.20" x2="46.50" y2="415.90" stroke="#666" stroke-width="1.05" />
<line x1="46.50" y1="415.40" x2="181.30" y2="415.40" stroke="#7d4b2e" stroke-width="1.1" />
<rect x="188.80" y="326.70" width="135.60" height="88.70" fill="none" stroke="#8c8c8c" stroke-width="1"/>
<line x1="188.80" y1="326.20" x2="188.80" y2="415.90" stroke="#666" stroke-width="1.05" />
<line x1="188.80" y1="415.40" x2="324.40" y2="415.40" stroke="#9a8750" stroke-width="1.1" />
<rect x="330.60" y="326.70" width="135.60" height="88.70" fill="none" stroke="#8c8c8c" stroke-width="1"/>
<line x1="330.60" y1="326.20" x2="330.60" y2="415.90" stroke="#666" stroke-width="1.05" />
<line x1="330.60" y1="415.40" x2="466.20" y2="415.40" stroke="#6f8566" stroke-width="1.1" />
<polyline points="46.80,323.34 47.30,322.78 47.72,323.27 48.25,321.99 48.72,323.40 49.09,322.72 49.78,323.37 50.20,318.80 50.57,322.97 51.09,322.24 51.41,323.23 51.94,322.69 52.15,323.26 52.54,322.49 52.92,323.38 53.44,322.87 54.05,323.35 54.40,320.80 54.76,323.25 55.15,322.70 55.39,323.43 55.76,321.11 56.22,323.22 56.74,321.43 57.12,322.50 57.70,318.50 58.22,323.00 59.02,322.27 59.48,323.07 59.68,321.23 59.92,323.32 60.46,322.79 60.89,323.28 61.60,319.80 62.46,323.36 63.20,322.35 63.70,323.19 64.50,320.80 64.97,323.38 65.69,322.75 65.98,323.17 66.30,321.45 66.62,323.38 67.01,321.66 67.45,322.74 67.72,321.18 68.27,323.45 68.80,321.50 69.18,323.14 69.75,321.70 70.21,323.31 70.64,321.78 71.06,323.00 71.29,322.31 71.93,323.16 72.31,322.74 72.70,323.28 73.38,321.39 73.65,323.05 74.18,322.50 74.76,323.12 75.20,320.50 75.96,323.47 76.90,322.47 77.30,323.30 77.51,322.85 78.03,323.35 78.47,321.12 79.03,323.10 79.40,313.10 79.71,323.26 80.16,322.16 80.59,323.25 81.14,322.71 81.79,323.47 82.20,320.10 82.43,323.12 82.93,322.02 83.32,323.43 83.61,322.77 84.14,323.48 84.80,316.80 85.37,323.15 86.22,322.07 86.92,323.03 87.50,318.80 87.77,323.40 88.25,321.58 88.88,323.23 89.24,322.49 89.69,323.15 90.19,321.90 90.81,323.08 91.30,319.50 91.67,321.85 92.30,319.50 92.63,323.45 93.13,321.13 93.72,322.87 94.40,320.10 94.79,323.32 95.11,321.41 95.59,323.25 95.95,322.49 96.21,323.07 96.67,321.42 97.11,323.21 97.35,322.87 97.93,323.43 98.40,320.80 98.96,322.96 99.35,322.30 99.87,323.22 100.37,322.88 100.87,323.38 101.10,322.62 101.73,323.09 102.10,317.10 102.75,323.49 103.22,322.55 103.70,323.21 104.27,321.14 104.79,323.05 105.25,322.30 105.72,323.40 106.10,318.80 106.71,323.16 107.05,322.21 107.65,323.44 108.02,322.89 108.52,323.33 108.72,321.52 109.49,322.77 110.10,320.50 111.00,323.30 111.67,322.40 112.31,323.28 113.20,318.80 113.67,323.15 114.34,322.20 114.80,323.26 115.08,321.69 115.27,323.48 115.68,321.88 116.22,323.03 116.80,320.10 117.39,322.99 118.26,321.97 118.69,323.42 119.29,322.10 119.79,323.22 120.02,322.44 120.68,323.23 121.10,321.35 121.39,323.24 121.90,317.40 122.45,323.31 123.05,322.89 123.55,323.27 123.88,322.80 124.43,323.41 124.90,319.50 125.35,323.37 125.84,322.82 126.27,323.41 126.71,322.57 127.17,323.29 127.60,320.10 128.13,323.19 128.95,322.76 129.37,323.20 129.73,321.82 130.24,323.27 130.61,322.88 131.25,323.38 131.60,318.10 132.07,323.50 132.61,321.67 133.16,323.33 133.61,322.90 134.20,322.30 134.80,303.50 135.25,263.50 135.60,242.20 135.95,263.50 136.40,303.50 136.88,323.48 136.90,321.50 137.40,314.50 137.70,323.08 138.09,322.47 138.48,323.26 138.88,321.98 139.21,323.02 139.60,319.60 140.17,322.78 140.68,321.43 141.23,322.72 141.55,319.73 141.84,323.20 142.20,321.10 142.93,322.55 143.50,319.60 144.43,323.35 145.11,321.98 145.69,322.82 146.06,321.36 146.55,323.17 147.30,315.40 147.98,323.22 148.58,319.60 149.07,323.30 149.36,321.96 150.13,323.27 150.80,318.20 151.19,323.39 151.74,322.44 152.25,323.12 152.75,320.51 153.08,322.65 153.58,321.03 153.89,322.70 154.30,319.50 154.66,323.32 155.11,321.62 155.43,323.45 155.96,321.77 156.59,323.14 157.10,318.90 157.48,322.68 158.09,321.64 158.50,323.48 158.82,320.73 159.39,322.68 159.83,320.65 160.20,322.79 160.60,318.20 161.12,323.18 161.37,321.78 161.83,322.95 162.21,320.99 162.72,323.31 163.30,322.43 163.78,323.16 164.10,319.60 164.53,322.78 164.98,320.68 165.43,322.39 166.03,320.44 166.32,322.51 166.90,318.20 167.40,323.21 167.93,320.86 168.49,322.73 169.00,319.50 169.33,322.84 169.92,320.81 170.17,322.42 170.64,319.87 170.98,323.10 171.43,321.05 171.73,323.44 172.20,316.50 172.77,323.20 173.53,319.55 174.10,321.83 174.60,319.50 175.03,323.40 175.64,321.77 175.98,323.40 176.31,321.27 176.82,322.65 177.40,315.10 177.99,322.48 178.77,320.58 179.14,323.38 179.50,316.80 179.80,322.36 180.25,319.70 181.00,323.42" fill="none" stroke="#5a86bd" stroke-width="0.6" stroke-linejoin="round"/>
<polyline points="189.30,322.78 189.80,320.04 190.55,322.80 191.60,314.30 192.38,321.61 193.30,313.50 193.68,321.22 194.30,318.03 194.96,323.40 195.70,309.40 196.33,323.05 196.90,314.00 197.54,322.54 198.14,317.86 198.53,322.00 198.87,320.36 199.37,322.84 199.68,319.94 200.27,322.97 200.67,321.85 201.03,323.38 201.46,321.11 201.96,322.83 202.40,313.00 203.21,322.52 203.75,321.47 204.61,323.14 205.40,315.00 206.13,323.50 206.63,321.49 206.84,322.93 207.30,317.36 207.78,323.22 208.20,319.50 209.04,321.72 209.80,318.00 210.49,322.91 211.26,320.75 211.78,323.10 212.47,319.35 213.14,323.03 213.52,321.04 214.26,322.38 214.72,318.20 215.36,322.81 215.94,316.52 216.50,322.68 216.77,320.21 217.13,323.13 217.53,321.15 218.06,322.92 218.30,310.20 218.62,322.33 219.07,318.58 219.29,321.97 219.74,317.99 220.45,322.69 221.20,313.90 221.97,321.75 222.57,319.26 222.84,322.37 223.41,319.22 224.24,321.50 225.20,316.00 225.88,323.23 226.40,321.27 226.93,323.33 227.60,314.30 228.60,322.40 229.30,316.00 229.90,322.59 230.43,319.68 230.97,322.80 231.42,321.18 231.84,323.36 232.11,320.63 232.80,323.07 233.32,320.52 233.92,323.00 234.50,318.00 235.00,322.04 235.61,314.48 236.03,322.78 236.47,319.53 237.03,322.33 237.44,316.03 237.66,322.58 238.17,316.24 238.71,320.17 239.28,315.05 239.74,321.19 239.97,314.07 240.44,319.83 241.20,309.40 241.86,320.81 242.56,314.17 243.19,320.55 243.70,311.00 244.15,320.87 244.61,317.74 245.00,322.71 245.45,319.47 245.98,323.10 246.30,316.70 246.93,320.68 247.68,316.23 248.16,320.46 248.90,308.90 249.34,322.89 249.67,320.69 250.22,322.40 250.90,317.54 251.82,323.11 252.50,318.00 253.04,321.99 253.60,314.36 254.06,322.65 254.45,313.50 254.85,248.00 255.25,313.50 255.90,317.67 256.47,321.11 257.20,315.60 258.49,320.88 259.60,310.50 260.21,320.17 261.10,314.28 261.60,320.72 261.82,317.94 262.52,323.36 263.10,307.90 263.93,322.86 264.55,317.66 265.57,320.72 266.50,314.60 267.39,323.10 268.16,317.50 268.57,320.75 269.10,299.60 269.54,321.57 270.18,317.17 270.87,322.99 271.60,298.00 272.17,323.38 272.66,318.03 273.31,322.46 274.20,311.00 274.87,323.17 275.80,312.00 276.57,320.35 277.30,315.00 278.09,323.18 278.64,318.70 279.50,322.75 280.40,310.00 281.12,320.90 281.79,312.89 282.52,321.52 283.00,305.80 283.34,320.32 283.95,314.37 284.77,320.62 285.80,295.60 286.40,321.16 286.99,318.37 287.48,321.91 287.93,312.70 288.39,322.04 288.99,318.19 289.52,321.51 290.19,314.20 290.70,323.26 291.19,319.85 291.60,322.82 292.17,318.46 292.65,323.05 293.00,297.00 293.64,319.60 294.14,311.59 294.54,319.59 295.18,311.80 295.87,322.77 296.80,273.00 297.51,322.02 298.16,311.13 298.84,320.53 299.30,303.00 299.68,318.25 300.17,310.32 300.56,318.72 301.23,308.46 301.70,322.88 302.44,315.26 303.05,320.69 303.40,300.00 303.70,322.75 304.16,310.56 304.90,320.88 305.36,315.64 306.13,322.95 306.70,307.50 307.14,321.46 307.50,312.01 307.80,321.58 308.26,311.17 308.79,321.65 309.26,312.88 309.67,322.81 310.16,313.44 310.81,320.24 311.27,313.19 311.87,321.27 312.30,291.20 313.15,321.49 313.78,315.72 314.32,321.94 314.81,318.06 315.41,322.42 315.87,313.02 316.09,323.36 316.56,315.22 317.09,323.34 317.80,294.90 318.41,321.93 318.79,316.97 319.47,323.50 320.00,307.50 320.50,319.77 321.02,315.10 321.50,321.70 321.90,312.98 322.44,322.98 323.00,312.00 323.90,323.38" fill="none" stroke="#a6a6a6" stroke-width="0.6" stroke-linejoin="round"/>
<polyline points="330.60,323.55 330.94,323.55 331.28,323.55 331.62,323.55 331.96,323.55 332.30,323.55 332.63,323.55 332.97,323.55 333.31,323.55 333.65,323.55 333.99,323.55 334.33,323.55 334.67,323.55 335.01,323.55 335.35,323.55 335.69,323.55 336.02,323.55 336.36,323.55 336.70,323.55 337.04,323.55 337.38,323.55 337.72,323.55 338.06,323.55 338.40,323.55 338.74,323.55 339.08,323.55 339.41,323.55 339.75,323.55 340.09,323.55 340.43,323.55 340.77,323.55 341.11,323.55 341.45,323.55 341.79,323.55 342.13,323.55 342.47,323.55 342.80,323.55 343.14,323.55 343.48,323.55 343.82,323.55 344.16,323.55 344.50,323.55 344.84,323.55 345.18,323.55 345.52,323.55 345.86,323.55 346.19,323.55 346.53,323.55 346.87,323.55 347.21,323.55 347.55,323.55 347.89,323.55 348.23,323.55 348.57,323.55 348.91,323.55 349.25,323.55 349.58,323.55 349.92,323.55 350.26,323.55 350.60,323.55 350.94,323.55 351.28,323.55 351.62,323.55 351.96,323.55 352.30,323.55 352.63,323.55 352.97,323.55 353.31,323.55 353.65,323.55 353.99,323.55 354.33,323.55 354.67,323.55 355.01,323.55 355.35,323.55 355.69,323.55 356.03,323.55 356.36,323.55 356.70,323.55 357.04,323.55 357.38,323.55 357.72,323.55 358.06,323.55 358.40,323.55 358.74,323.55 359.08,323.55 359.42,323.55 359.75,323.55 360.09,323.55 360.43,323.55 360.77,323.55 361.11,323.55 361.45,323.55 361.79,323.55 362.13,323.55 362.47,323.55 362.81,323.55 363.14,323.55 363.48,323.55 363.82,323.55 364.16,323.55 364.50,323.55 364.84,323.55 365.18,323.55 365.52,323.55 365.86,323.55 366.19,323.55 366.53,323.55 366.87,323.55 367.21,323.55 367.55,323.55 367.89,323.55 368.23,323.55 368.57,323.55 368.91,323.55 369.25,323.55 369.59,323.55 369.92,323.55 370.26,323.55 370.60,323.55 370.94,323.55 371.28,323.55 371.62,323.55 371.96,323.55 372.30,323.55 372.64,323.55 372.98,323.55 373.31,323.55 373.65,323.55 373.99,323.55 374.33,323.55 374.67,323.55 375.01,323.55 375.35,323.55 375.69,323.55 376.03,323.55 376.37,323.55 376.70,323.55 377.04,323.55 377.38,323.55 377.72,323.55 378.06,323.55 378.40,323.55 378.74,323.55 379.08,323.55 379.42,323.55 379.75,323.55 380.09,323.55 380.43,323.55 380.77,323.55 381.11,323.55 381.45,323.55 381.79,323.55 382.13,323.55 382.47,323.55 382.81,323.55 383.14,323.55 383.48,323.55 383.82,323.55 384.16,323.55 384.50,323.55 384.84,323.55 385.18,323.55 385.52,323.55 385.86,323.55 386.20,323.55 386.54,323.55 386.87,323.55 387.21,323.55 387.55,323.55 387.89,323.55 388.23,323.55 388.57,323.55 388.91,323.55 389.25,323.55 389.59,323.55 389.93,323.55 390.26,323.55 390.60,323.55 390.94,323.55 391.28,323.55 391.62,323.55 391.96,323.55 392.30,323.55 392.64,323.55 392.98,323.55 393.31,323.55 393.65,323.55 393.99,323.55 394.33,323.55 394.67,323.55 395.01,323.55 395.35,323.55 395.69,323.55 396.03,323.55 396.37,323.55 396.71,323.55 397.04,323.55 397.38,323.55 397.72,323.55 398.06,323.55 398.40,323.55 398.74,323.55 399.08,323.55 399.42,323.55 399.76,323.55 400.10,323.55 400.43,323.55 400.77,323.55 401.11,323.55 401.45,323.55 401.79,323.55 402.13,323.55 402.47,323.55 402.81,323.55 403.15,323.55 403.49,323.55 403.82,323.55 404.16,323.55 404.50,323.55 404.84,323.55 405.18,323.55 405.52,323.55 405.86,323.55 406.20,323.55 406.54,323.55 406.88,323.55 407.21,323.55 407.55,323.55 407.89,323.55 408.23,323.55 408.57,323.55 408.91,323.55 409.25,323.55 409.59,323.55 409.93,323.55 410.26,323.55 410.60,323.55 410.94,323.55 411.28,323.55 411.62,323.55 411.96,323.55 412.30,323.55 412.64,323.55 412.98,323.55 413.32,323.55 413.65,323.55 413.99,323.55 414.33,323.55 414.67,323.55 415.01,323.55 415.35,323.55 415.69,323.55 416.03,323.55 416.37,323.55 416.71,323.55 417.05,323.55 417.38,323.55 417.72,323.54 418.06,323.54 418.40,323.53 418.74,323.51 419.08,323.49 419.42,323.46 419.76,323.42 420.10,323.36 420.44,323.28 420.77,323.18 421.11,323.05 421.45,322.90 421.79,322.73 422.13,322.54 422.47,322.34 422.81,322.14 423.15,321.95 423.49,321.79 423.82,321.66 424.16,321.58 424.50,321.55 424.84,321.58 425.18,321.66 425.45,321.73 425.50,321.74 425.52,321.74 425.55,321.74 425.59,321.74 425.64,321.72 425.69,321.69 425.74,321.65 425.78,321.58 425.83,321.47 425.86,321.39 425.88,321.33 425.93,321.13 425.97,320.86 426.02,320.50 426.07,320.04 426.12,319.46 426.16,318.72 426.20,318.09 426.21,317.81 426.26,316.68 426.31,315.33 426.35,313.71 426.40,311.79 426.45,309.57 426.50,307.02 426.54,304.55 426.54,304.12 426.59,300.88 426.64,297.30 426.69,293.41 426.73,289.25 426.78,284.86 426.83,280.30 426.88,275.65 426.92,271.01 426.97,266.46 427.02,262.12 427.07,258.08 427.11,254.46 427.16,251.34 427.21,248.83 427.22,248.52 427.26,246.38 427.30,245.26 427.35,244.90 427.40,245.31 427.45,246.49 427.49,248.38 427.54,250.95 427.55,251.79 427.59,254.11 427.64,257.78 427.68,261.87 427.73,266.27 427.78,270.86 427.83,275.56 427.87,280.25 427.89,282.24 427.92,284.86 427.97,289.30 428.02,293.51 428.06,297.45 428.11,301.07 428.16,304.36 428.20,307.30 428.23,308.83 428.25,309.90 428.30,312.17 428.35,314.12 428.39,315.79 428.44,317.19 428.49,318.35 428.54,319.31 428.57,319.88 428.58,320.09 428.63,320.72 428.68,321.22 428.73,321.61 428.77,321.92 428.82,322.15 428.87,322.34 428.91,322.46 428.92,322.47 428.96,322.58 429.01,322.66 429.06,322.72 429.11,322.77 429.15,322.80 429.20,322.83 429.25,322.85 429.59,322.93 429.93,322.97 430.27,323.00 430.61,323.02 430.94,323.04 431.28,323.05 431.62,323.06 431.96,323.07 432.30,323.08 432.64,323.09 432.98,323.10 433.32,323.11 433.66,323.11 434.00,323.12 434.33,323.13 434.67,323.13 435.01,323.14 435.35,323.15 435.69,323.15 436.03,323.16 436.37,323.17 436.71,323.17 437.05,323.18 437.38,323.19 437.72,323.19 438.06,323.20 438.40,323.20 438.74,323.21 439.08,323.22 439.42,323.22 439.76,323.23 440.10,323.23 440.44,323.24 440.77,323.24 441.11,323.25 441.45,323.25 441.79,323.26 442.13,323.26 442.47,323.27 442.81,323.27 443.15,323.28 443.49,323.28 443.83,323.28 444.16,323.29 444.50,323.29 444.84,323.30 445.18,323.30 445.52,323.31 445.86,323.31 446.20,323.31 446.54,323.32 446.88,323.32 447.22,323.33 447.56,323.33 447.89,323.33 448.23,323.34 448.57,323.34 448.91,323.34 449.25,323.35 449.59,323.35 449.93,323.35 450.27,323.36 450.61,323.36 450.94,323.36 451.28,323.37 451.62,323.37 451.96,323.37 452.30,323.38 452.64,323.38 452.98,323.38 453.32,323.38 453.66,323.39 454.00,323.39 454.33,323.39 454.67,323.39 455.01,323.40 455.35,323.40 455.69,323.40 456.03,323.40 456.37,323.41 456.71,323.41 457.05,323.41 457.39,323.41 457.73,323.42 458.06,323.42 458.40,323.42 458.74,323.42 459.08,323.42 459.42,323.43 459.76,323.43 460.10,323.43 460.44,323.43 460.78,323.43 461.12,323.44 461.45,323.44 461.79,323.44 462.13,323.44 462.47,323.44 462.81,323.45 463.15,323.45 463.49,323.45 463.83,323.45 464.17,323.45 464.50,323.45 464.84,323.46 465.18,323.46 465.52,323.46 465.86,323.46 466.20,323.46" fill="none" stroke="#6e7cb2" stroke-width="0.85" stroke-linejoin="round"/>
<polyline points="46.50,414.99 46.84,414.82 47.17,414.88 47.51,415.12 47.85,415.13 48.19,415.12 48.52,414.94 48.86,415.09 49.20,414.84 49.53,414.86 49.87,413.98 50.21,415.01 50.54,415.09 50.88,414.74 51.22,414.86 51.55,414.96 51.89,415.12 52.23,415.05 52.57,414.94 52.90,414.86 53.24,415.00 53.58,414.80 53.91,414.86 54.25,414.71 54.59,415.01 54.92,415.09 55.26,414.77 55.60,414.37 55.94,414.77 56.27,414.71 56.61,414.80 56.95,414.86 57.28,414.73 57.62,414.91 57.96,415.12 58.30,414.83 58.63,414.74 58.97,414.96 59.31,415.14 59.64,415.07 59.98,415.12 60.32,415.09 60.65,414.95 60.99,415.11 61.33,414.88 61.66,414.74 62.00,415.01 62.34,414.97 62.68,414.67 63.01,415.06 63.35,415.03 63.69,414.86 64.02,415.15 64.36,414.97 64.70,414.67 65.03,414.89 65.37,414.81 65.71,414.70 66.05,414.71 66.38,414.95 66.72,415.10 67.06,415.12 67.39,415.05 67.73,414.98 68.07,415.15 68.41,415.10 68.74,415.14 69.08,414.84 69.42,415.02 69.75,414.97 70.09,414.73 70.43,414.92 70.76,415.11 71.10,414.98 71.44,414.74 71.78,415.14 72.11,414.89 72.45,414.46 72.79,414.66 73.12,414.80 73.46,414.97 73.80,414.76 74.13,414.76 74.47,415.04 74.81,414.66 75.15,414.75 75.48,414.78 75.82,414.89 76.16,414.91 76.49,415.02 76.83,414.67 77.17,414.68 77.50,414.67 77.84,415.04 78.18,415.05 78.52,414.84 78.85,414.73 79.19,414.82 79.53,415.11 79.86,414.70 80.20,414.77 80.54,415.06 80.87,414.98 81.21,414.66 81.55,414.95 81.89,414.79 82.22,415.09 82.56,414.70 82.90,415.08 83.23,414.66 83.57,414.97 83.91,414.31 84.24,414.83 84.58,414.68 84.92,414.71 85.25,415.04 85.59,415.00 85.93,414.86 86.27,414.94 86.60,414.69 86.94,414.92 87.28,414.70 87.61,414.69 87.95,414.88 88.29,415.14 88.62,414.42 88.96,415.06 89.30,414.79 89.64,414.99 89.97,414.87 90.31,415.10 90.65,415.03 90.98,414.76 91.32,414.87 91.66,414.69 92.00,414.84 92.33,414.89 92.67,414.92 93.01,414.91 93.34,414.80 93.68,414.68 94.02,414.87 94.35,414.73 94.69,415.09 95.03,415.11 95.37,415.11 95.70,414.76 96.04,415.07 96.38,414.82 96.71,414.71 97.05,415.04 97.39,414.95 97.72,414.66 98.06,415.07 98.40,414.89 98.73,415.05 99.07,414.35 99.41,414.66 99.75,414.84 100.08,415.12 100.42,414.76 100.76,415.10 101.09,415.13 101.43,415.01 101.77,414.94 102.11,414.74 102.44,415.08 102.78,414.86 103.12,415.11 103.45,414.81 103.79,415.11 104.13,414.83 104.46,415.11 104.80,415.12 105.14,414.92 105.47,414.87 105.81,415.02 106.15,414.89 106.49,415.10 106.82,415.12 107.16,414.99 107.50,414.77 107.83,414.90 108.17,414.78 108.51,415.14 108.84,414.87 109.18,414.91 109.52,415.10 109.86,414.93 110.19,414.73 110.53,414.90 110.87,414.66 111.20,414.73 111.54,414.83 111.88,414.98 112.22,415.09 112.55,414.78 112.89,415.07 113.23,414.73 113.56,414.81 113.90,415.03 114.24,414.92 114.57,414.93 114.91,414.67 115.25,414.88 115.59,414.67 115.92,414.67 116.26,414.91 116.60,415.05 116.93,415.15 117.27,415.11 117.61,414.89 117.94,415.03 118.28,414.89 118.62,414.82 118.96,414.71 119.29,414.99 119.63,415.08 119.97,414.16 120.30,414.70 120.64,414.78 120.98,415.08 121.31,414.90 121.65,414.75 121.99,414.86 122.33,414.81 122.66,414.93 123.00,414.97 123.34,414.73 123.67,414.84 124.01,414.81 124.35,415.15 124.68,414.78 125.02,414.88 125.36,415.12 125.70,415.02 126.03,415.02 126.37,415.05 126.71,414.66 127.04,414.96 127.38,414.81 127.72,414.84 128.05,415.11 128.39,415.02 128.73,415.00 129.06,415.14 129.40,415.02 129.74,414.80 130.08,415.00 130.41,414.92 130.75,415.09 131.09,415.05 131.42,414.31 131.76,414.74 132.10,414.93 132.44,415.05 132.77,415.04 133.11,415.08 133.45,414.65 133.50,414.70 133.55,414.65 133.60,414.95 133.65,414.78 133.70,414.72 133.75,414.74 133.78,414.66 133.80,413.77 133.85,414.23 133.90,414.01 133.95,413.77 134.00,413.72 134.05,413.00 134.10,412.80 134.12,412.55 134.15,411.90 134.20,411.03 134.25,410.35 134.31,409.15 134.36,407.27 134.41,405.57 134.46,403.43 134.51,401.19 134.56,398.66 134.61,395.31 134.66,391.70 134.71,388.11 134.76,383.86 134.79,380.77 134.81,379.04 134.86,374.52 134.91,369.57 134.96,364.49 135.01,359.58 135.06,354.28 135.11,349.92 135.13,348.03 135.16,345.59 135.22,341.68 135.27,338.30 135.32,335.48 135.37,333.15 135.42,332.16 135.47,331.69 135.52,332.20 135.57,333.46 135.62,335.55 135.67,338.03 135.72,341.62 135.77,345.53 135.81,348.31 135.82,349.60 135.87,354.16 135.92,359.21 135.97,364.08 136.02,369.25 136.07,374.22 136.13,379.29 136.14,380.87 136.18,383.58 136.23,387.78 136.28,391.63 136.33,394.63 136.38,398.57 136.43,401.14 136.48,403.83 136.53,405.66 136.58,407.70 136.63,408.98 136.68,410.29 136.73,410.95 136.78,412.09 136.82,412.45 136.83,412.74 136.88,413.38 136.93,413.56 136.98,414.21 137.04,414.13 137.09,414.52 137.14,414.33 137.15,414.81 137.19,414.68 137.24,414.87 137.29,414.65 137.34,414.96 137.39,414.93 137.44,414.99 137.49,414.74 137.83,414.67 138.16,415.06 138.50,414.94 138.84,414.68 139.18,414.95 139.51,414.66 139.85,415.12 140.19,414.95 140.52,414.71 140.86,414.65 141.20,414.99 141.53,414.68 141.87,415.13 142.21,414.96 142.55,414.98 142.88,415.15 143.22,414.97 143.56,415.09 143.89,415.05 144.23,414.74 144.57,414.56 144.90,414.96 145.24,415.05 145.58,414.37 145.92,414.74 146.25,415.08 146.59,414.69 146.93,414.78 147.26,414.98 147.60,414.67 147.94,415.02 148.27,414.99 148.61,415.15 148.95,414.69 149.29,414.49 149.62,414.91 149.96,414.67 150.30,415.02 150.63,414.90 150.97,415.06 151.31,414.78 151.64,414.76 151.98,414.99 152.32,414.97 152.66,415.11 152.99,414.77 153.33,414.68 153.67,414.99 154.00,414.71 154.34,415.02 154.68,415.10 155.01,414.80 155.35,415.03 155.69,414.84 156.03,414.78 156.36,414.82 156.70,414.73 157.04,414.87 157.37,414.78 157.71,415.03 158.05,415.07 158.38,414.86 158.72,414.95 159.06,414.90 159.40,414.75 159.73,414.65 160.07,414.91 160.41,414.73 160.74,415.13 161.08,415.09 161.42,414.66 161.75,414.68 162.09,414.72 162.43,415.02 162.77,414.68 163.10,414.85 163.44,415.04 163.78,415.08 164.11,415.02 164.45,414.82 164.79,415.14 165.12,414.81 165.46,414.99 165.80,414.75 166.14,415.12 166.47,414.95 166.81,414.83 167.15,415.07 167.48,414.95 167.82,415.00 168.16,414.99 168.49,414.97 168.83,414.72 169.17,414.97 169.51,414.79 169.84,415.15 170.18,414.94 170.52,414.95 170.85,414.92 171.19,415.14 171.53,414.83 171.86,415.11 172.20,414.96 172.54,415.08 172.88,414.89 173.21,415.10 173.55,414.75 173.89,415.05 174.22,414.68 174.56,414.91 174.90,414.69 175.23,414.70 175.57,414.74 175.91,414.76 176.25,414.95 176.58,414.74 176.92,415.04 177.26,414.89 177.59,415.09 177.93,414.79 178.27,415.13 178.60,414.10 178.94,415.09 179.28,414.87 179.62,415.00 179.95,414.86 180.29,414.82 180.63,414.44 180.96,414.91 181.30,414.77" fill="none" stroke="#cf7a45" stroke-width="0.6" stroke-linejoin="round"/>
<polyline points="188.80,415.01 189.14,415.01 189.48,415.11 189.82,415.12 190.16,414.49 190.50,415.13 190.83,414.92 191.17,415.13 191.51,415.04 191.85,415.11 192.19,414.85 192.53,414.91 192.87,414.86 193.21,414.86 193.55,415.10 193.89,414.87 194.22,415.04 194.56,415.10 194.90,415.07 195.24,415.11 195.58,414.87 195.92,415.07 196.26,414.91 196.60,415.10 196.94,414.95 197.28,415.10 197.61,415.12 197.95,414.96 198.29,414.89 198.63,414.98 198.97,415.12 199.31,414.96 199.65,414.91 199.99,414.85 200.33,415.04 200.67,415.02 201.00,414.27 201.34,415.07 201.68,414.85 202.02,414.95 202.36,415.03 202.70,414.97 203.04,415.00 203.38,415.11 203.72,414.95 204.06,415.04 204.39,415.04 204.73,414.97 205.07,415.09 205.41,415.01 205.75,414.87 206.09,415.11 206.43,414.96 206.77,414.92 207.11,414.55 207.44,414.98 207.78,414.96 208.12,414.87 208.46,415.08 208.80,415.14 209.14,415.03 209.48,415.13 209.82,415.15 210.16,414.87 210.50,415.09 210.84,415.00 211.17,414.91 211.51,415.06 211.85,415.14 212.19,414.92 212.53,415.15 212.87,414.93 213.21,414.93 213.55,415.08 213.89,414.81 214.22,414.93 214.56,414.90 214.90,415.07 215.24,415.02 215.58,414.99 215.92,414.96 216.26,415.08 216.60,415.15 216.94,415.08 217.28,414.87 217.62,415.05 217.95,415.05 218.29,414.88 218.63,414.94 218.97,414.86 219.31,414.90 219.65,414.89 219.99,414.93 220.33,415.06 220.67,414.96 221.00,414.88 221.34,415.14 221.68,414.87 222.02,415.07 222.36,414.94 222.70,414.94 223.04,415.13 223.38,415.04 223.72,414.90 224.06,415.13 224.40,414.88 224.73,415.12 225.07,414.44 225.41,414.91 225.75,414.90 226.09,415.06 226.43,415.12 226.77,415.09 227.11,414.82 227.45,415.07 227.78,415.04 228.12,414.86 228.46,414.89 228.80,415.14 229.14,415.02 229.48,415.05 229.82,414.99 230.16,414.89 230.50,414.90 230.84,415.15 231.18,414.92 231.51,415.15 231.85,415.00 232.19,415.09 232.53,415.05 232.87,415.07 233.21,415.06 233.55,414.94 233.89,415.12 234.23,415.13 234.56,414.94 234.90,414.96 235.24,415.03 235.58,414.88 235.92,414.72 236.26,415.07 236.60,415.00 236.94,414.88 237.28,415.01 237.62,414.92 237.95,414.96 238.29,415.05 238.63,414.90 238.97,414.93 239.31,415.02 239.65,414.98 239.99,415.01 240.33,415.08 240.67,415.06 241.01,414.90 241.34,415.10 241.68,415.05 242.02,415.10 242.36,415.09 242.70,414.93 243.04,414.86 243.38,415.03 243.72,414.91 244.06,415.02 244.40,414.96 244.74,415.09 245.07,415.14 245.41,414.91 245.75,415.00 246.09,415.01 246.43,414.97 246.77,414.93 247.11,415.02 247.45,414.93 247.79,415.08 248.12,414.89 248.46,414.94 248.80,414.95 249.14,415.01 249.48,414.96 249.82,415.02 250.16,414.94 250.50,415.07 250.84,415.01 251.18,415.03 251.51,414.87 251.85,414.95 252.19,415.03 252.53,414.42 252.87,415.10 253.21,414.87 253.55,415.11 253.62,414.96 253.64,414.95 253.67,414.84 253.70,414.94 253.73,414.96 253.75,414.85 253.78,414.85 253.81,414.68 253.83,414.56 253.86,414.45 253.89,414.09 253.92,413.78 253.94,413.41 253.97,412.66 254.00,412.21 254.02,411.32 254.05,410.37 254.08,408.91 254.10,407.50 254.13,405.77 254.16,403.61 254.19,401.01 254.21,398.29 254.23,396.71 254.24,394.98 254.27,391.40 254.29,387.60 254.32,383.31 254.35,378.85 254.38,373.94 254.40,368.92 254.43,363.77 254.46,358.59 254.48,353.51 254.51,348.99 254.54,344.30 254.57,340.54 254.59,336.95 254.62,334.08 254.65,332.25 254.67,331.03 254.70,330.42 254.73,331.03 254.76,332.09 254.78,334.10 254.81,336.91 254.84,340.31 254.86,344.32 254.89,348.80 254.91,351.14 254.92,353.53 254.95,358.71 254.97,363.86 255.00,368.99 255.03,373.98 255.05,378.70 255.08,382.50 255.11,387.58 255.14,391.46 255.16,395.12 255.19,398.14 255.22,401.06 255.24,403.71 255.27,405.63 255.30,407.54 255.33,409.00 255.35,409.56 255.38,411.25 255.41,412.01 255.43,412.80 255.46,413.24 255.49,413.76 255.52,414.05 255.54,414.37 255.57,414.52 255.58,414.64 255.60,414.49 255.62,414.65 255.65,414.87 255.68,414.84 255.71,414.25 255.73,414.82 255.76,415.09 255.79,415.12 255.92,414.87 256.26,414.95 256.60,414.88 256.94,414.96 257.28,414.94 257.62,414.95 257.96,414.95 258.29,414.92 258.63,414.48 258.97,414.88 259.31,415.04 259.65,414.91 259.99,415.07 260.33,415.02 260.67,415.02 261.01,414.87 261.35,414.88 261.69,414.91 262.02,414.87 262.36,415.15 262.70,414.97 263.04,414.86 263.38,415.03 263.72,414.96 264.06,415.10 264.40,414.94 264.74,414.86 265.07,414.89 265.41,415.14 265.75,415.08 266.09,415.09 266.43,414.92 266.77,414.89 267.11,415.12 267.45,414.94 267.79,414.87 268.13,414.86 268.46,414.63 268.80,414.90 269.14,415.06 269.48,415.10 269.82,415.00 270.16,415.04 270.50,415.02 270.84,415.11 271.18,415.04 271.52,414.96 271.86,415.03 272.19,414.87 272.53,414.98 272.87,415.13 273.21,414.94 273.55,415.05 273.89,414.86 274.23,414.97 274.57,415.02 274.91,415.04 275.25,414.97 275.58,414.91 275.92,415.15 276.26,415.02 276.60,414.91 276.94,415.14 277.28,414.91 277.62,414.98 277.96,414.89 278.30,414.94 278.63,415.05 278.97,414.98 279.31,415.09 279.65,414.87 279.99,414.97 280.33,415.01 280.67,415.07 281.01,414.91 281.35,415.12 281.69,414.92 282.02,414.98 282.36,414.88 282.70,415.01 283.04,415.09 283.38,415.10 283.72,415.04 284.06,415.03 284.40,414.31 284.74,415.04 285.08,414.96 285.41,415.10 285.75,415.05 286.09,414.35 286.43,414.89 286.77,414.98 287.11,414.92 287.45,414.87 287.79,414.90 288.13,414.91 288.47,415.10 288.80,415.13 289.14,414.89 289.48,414.87 289.82,415.13 290.16,415.03 290.50,414.86 290.84,414.98 291.18,414.86 291.52,415.03 291.86,415.10 292.19,414.85 292.53,415.14 292.87,415.04 293.21,414.88 293.55,415.14 293.89,414.94 294.23,414.85 294.57,415.11 294.91,414.87 295.25,415.06 295.58,414.92 295.92,415.05 296.26,415.11 296.60,415.10 296.94,415.11 297.28,415.15 297.62,414.35 297.96,415.08 298.30,414.89 298.64,415.11 298.98,415.12 299.31,414.90 299.65,415.01 299.99,414.90 300.33,414.96 300.67,415.08 301.01,414.94 301.35,415.11 301.69,415.07 302.03,415.10 302.37,414.90 302.70,415.10 303.04,415.05 303.38,415.12 303.72,415.13 304.06,414.95 304.40,415.01 304.74,415.07 305.08,415.04 305.42,414.85 305.75,415.12 306.09,414.88 306.43,414.93 306.77,414.21 307.11,415.05 307.45,415.15 307.79,414.99 308.13,415.02 308.47,415.08 308.81,415.11 309.14,414.92 309.48,415.09 309.82,415.12 310.16,415.00 310.50,415.09 310.84,414.94 311.18,414.98 311.52,415.13 311.86,415.03 312.20,415.13 312.53,415.05 312.87,414.89 313.21,415.15 313.55,415.01 313.89,415.07 314.23,414.90 314.57,415.10 314.91,414.56 315.25,415.02 315.59,415.11 315.92,414.91 316.26,415.05 316.60,415.04 316.94,415.13 317.28,414.86 317.62,415.00 317.96,414.21 318.30,415.08 318.64,415.12 318.98,414.83 319.31,414.94 319.65,415.14 319.99,414.98 320.33,414.94 320.67,414.89 321.01,415.14 321.35,415.00 321.69,415.07 322.03,415.03 322.37,414.97 322.70,415.11 323.04,414.93 323.38,414.90 323.72,415.03 324.06,414.90 324.40,415.03" fill="none" stroke="#e8c050" stroke-width="0.55" stroke-linejoin="round"/>
<polyline points="330.60,415.04 330.94,415.13 331.28,415.15 331.62,415.13 331.96,415.11 332.30,415.00 332.63,415.04 332.97,415.02 333.31,415.04 333.65,415.03 333.99,415.19 334.33,415.10 334.67,415.01 335.01,415.01 335.35,415.15 335.69,415.12 336.02,415.07 336.36,415.13 336.70,415.09 337.04,415.19 337.38,415.11 337.72,415.10 338.06,415.20 338.40,415.17 338.74,415.01 339.08,415.04 339.41,415.01 339.75,415.07 340.09,415.04 340.43,415.02 340.77,415.02 341.11,415.19 341.45,415.07 341.79,415.15 342.13,415.06 342.47,415.15 342.80,415.09 343.14,415.02 343.48,415.08 343.82,415.15 344.16,415.10 344.50,415.11 344.84,415.01 345.18,415.14 345.52,415.14 345.86,415.07 346.19,415.18 346.53,415.08 346.87,415.01 347.21,415.10 347.55,415.15 347.89,415.11 348.23,415.09 348.57,415.17 348.91,415.18 349.25,415.17 349.58,415.14 349.92,415.12 350.26,415.14 350.60,415.15 350.94,415.18 351.28,415.09 351.62,415.03 351.96,415.08 352.30,415.09 352.63,415.07 352.97,415.16 353.31,415.06 353.65,415.11 353.99,415.09 354.33,415.08 354.67,415.11 355.01,415.14 355.35,415.15 355.69,415.16 356.03,415.10 356.36,415.12 356.70,415.08 357.04,415.20 357.38,415.13 357.72,415.03 358.06,415.15 358.40,415.09 358.74,415.10 359.08,415.14 359.42,415.00 359.75,415.14 360.09,415.05 360.43,415.17 360.77,415.19 361.11,415.03 361.45,415.11 361.79,415.19 362.13,415.12 362.47,415.11 362.81,415.05 363.14,415.18 363.48,415.15 363.82,415.01 364.16,415.05 364.50,415.17 364.84,415.13 365.18,415.13 365.52,415.06 365.86,415.08 366.19,415.03 366.53,415.04 366.87,415.10 367.21,415.05 367.55,415.05 367.89,415.05 368.23,415.10 368.57,415.04 368.91,415.06 369.25,415.02 369.59,415.17 369.92,415.03 370.26,415.20 370.60,415.05 370.94,415.08 371.28,415.10 371.62,415.01 371.96,415.09 372.30,415.12 372.64,415.04 372.98,415.03 373.31,415.08 373.65,415.12 373.99,415.11 374.33,415.11 374.67,415.06 375.01,415.14 375.35,415.12 375.69,415.09 376.03,415.12 376.37,415.14 376.70,415.04 377.04,415.03 377.38,415.10 377.72,415.11 378.06,415.16 378.40,415.14 378.74,415.17 379.08,415.08 379.42,415.08 379.75,415.18 380.09,415.02 380.43,415.14 380.77,415.03 381.11,415.03 381.45,415.01 381.79,415.16 382.13,415.11 382.47,415.02 382.81,415.20 383.14,415.19 383.48,415.09 383.82,415.10 384.16,415.02 384.50,415.05 384.84,415.09 385.18,415.00 385.52,415.10 385.86,415.10 386.20,415.06 386.54,415.12 386.87,415.13 387.21,415.08 387.55,415.13 387.89,415.01 388.23,415.06 388.57,415.09 388.91,415.18 389.25,415.13 389.59,415.12 389.93,415.09 390.26,415.09 390.60,415.02 390.94,415.01 391.28,415.10 391.62,415.11 391.96,415.08 392.30,415.00 392.64,415.13 392.98,415.09 393.31,415.04 393.65,415.17 393.99,415.14 394.33,415.00 394.67,415.03 395.01,415.10 395.35,415.18 395.69,415.02 396.03,415.06 396.37,415.04 396.71,415.00 397.04,415.02 397.38,415.12 397.72,415.17 398.06,415.14 398.40,415.10 398.74,415.10 399.08,415.16 399.42,415.16 399.76,415.07 400.10,415.08 400.43,415.13 400.77,415.00 401.11,415.07 401.45,415.19 401.79,415.12 402.13,415.04 402.47,415.14 402.81,415.06 403.15,415.20 403.49,415.14 403.82,415.03 404.16,415.08 404.50,415.07 404.84,415.16 405.18,415.10 405.52,415.09 405.86,415.15 406.20,415.07 406.54,415.09 406.88,415.00 407.21,415.09 407.55,415.12 407.89,415.18 408.23,415.17 408.57,415.05 408.91,415.18 409.25,415.18 409.59,415.17 409.93,415.10 410.26,415.04 410.60,415.08 410.94,415.04 411.28,415.19 411.62,415.20 411.96,415.05 412.30,415.14 412.64,415.06 412.98,415.13 413.32,415.17 413.65,415.15 413.99,415.18 414.33,415.02 414.67,415.08 415.01,415.13 415.35,415.11 415.69,415.12 416.03,415.19 416.37,415.02 416.71,415.08 417.05,415.01 417.38,415.11 417.72,415.08 418.06,415.15 418.40,415.19 418.74,415.01 419.08,415.03 419.42,415.14 419.76,415.02 420.10,415.04 420.44,415.14 420.77,415.08 421.11,415.01 421.45,415.10 421.79,415.01 422.13,415.15 422.47,415.12 422.81,415.06 423.15,415.16 423.49,415.14 423.82,415.02 424.16,415.10 424.50,415.04 424.84,415.15 425.18,415.17 425.52,415.13 425.86,415.13 425.90,414.96 425.93,415.08 425.97,415.00 426.01,415.05 426.05,414.91 426.08,414.87 426.12,414.76 426.16,414.69 426.19,414.50 426.20,414.34 426.23,414.21 426.27,413.91 426.31,413.51 426.34,412.98 426.38,412.33 426.42,411.55 426.46,410.41 426.49,409.24 426.53,407.79 426.54,407.38 426.57,406.03 426.60,403.91 426.64,401.38 426.68,398.75 426.72,395.54 426.75,391.96 426.79,388.09 426.83,384.02 426.87,379.48 426.88,378.13 426.90,374.72 426.94,369.68 426.98,364.82 427.01,359.65 427.05,354.83 427.09,350.19 427.13,345.78 427.16,341.93 427.20,338.44 427.22,337.46 427.24,335.67 427.28,333.73 427.31,332.54 427.35,332.15 427.39,332.49 427.43,333.80 427.46,335.68 427.50,338.56 427.54,341.85 427.55,343.56 427.57,345.82 427.61,350.08 427.65,354.85 427.69,359.71 427.72,364.74 427.76,369.81 427.80,374.72 427.84,379.53 427.87,384.01 427.89,386.21 427.91,388.19 427.95,391.99 427.98,395.61 428.02,398.66 428.06,401.48 428.10,403.87 428.13,405.99 428.17,407.81 428.21,409.24 428.23,410.07 428.25,410.52 428.28,411.41 428.32,412.32 428.36,412.95 428.39,413.37 428.43,413.81 428.47,414.10 428.51,414.35 428.54,414.68 428.57,414.75 428.58,414.84 428.62,414.81 428.66,414.89 428.69,415.00 428.73,415.03 428.77,415.01 428.80,415.02 428.84,415.12 428.91,415.02 429.25,415.13 429.59,415.07 429.93,415.16 430.27,415.18 430.61,415.02 430.94,415.05 431.28,415.06 431.62,415.19 431.96,415.19 432.30,415.17 432.64,415.16 432.98,415.14 433.32,415.12 433.66,415.19 434.00,415.14 434.33,415.07 434.67,415.16 435.01,415.03 435.35,415.09 435.69,415.06 436.03,415.15 436.37,415.11 436.71,415.06 437.05,415.13 437.38,415.20 437.72,415.03 438.06,415.04 438.40,415.14 438.74,415.19 439.08,415.03 439.42,415.08 439.76,415.19 440.10,415.15 440.44,415.18 440.77,415.04 441.11,415.16 441.45,415.02 441.79,415.05 442.13,415.18 442.47,415.06 442.81,415.12 443.15,415.05 443.49,415.03 443.83,415.14 444.16,415.18 444.50,415.01 444.84,415.12 445.18,415.01 445.52,415.06 445.86,415.05 446.20,415.03 446.54,415.07 446.88,415.11 447.22,415.19 447.56,415.06 447.89,415.11 448.23,415.10 448.57,415.01 448.91,415.17 449.25,415.05 449.59,415.19 449.93,415.06 450.27,415.04 450.61,415.15 450.94,415.09 451.28,415.01 451.62,415.07 451.96,415.09 452.30,415.15 452.64,415.19 452.98,415.13 453.32,415.12 453.66,415.16 454.00,415.14 454.33,415.17 454.67,415.06 455.01,415.07 455.35,415.15 455.69,415.15 456.03,415.10 456.37,415.11 456.71,415.01 457.05,415.13 457.39,415.14 457.73,415.02 458.06,415.17 458.40,415.09 458.74,415.13 459.08,415.04 459.42,415.09 459.76,415.05 460.10,415.17 460.44,415.07 460.78,415.08 461.12,415.11 461.45,415.05 461.79,415.03 462.13,415.18 462.47,415.14 462.81,415.13 463.15,415.16 463.49,415.19 463.83,415.14 464.17,415.16 464.50,415.06 464.84,415.11 465.18,415.18 465.52,415.14 465.86,415.11 466.20,415.13" fill="none" stroke="#7aa862" stroke-width="0.6" stroke-linejoin="round"/>
<line x1="46.50" y1="415.70" x2="46.50" y2="418.40" stroke="#3a3a3a" stroke-width="0.9" />
<text x="45.90" y="425.50" font-size="7.0" font-weight="normal" text-anchor="middle" fill="#222" stroke="#222" stroke-width="0.12" >0</text>
<line x1="80.20" y1="415.70" x2="80.20" y2="418.40" stroke="#3a3a3a" stroke-width="0.9" />
<text x="79.60" y="425.50" font-size="7.0" font-weight="normal" text-anchor="middle" fill="#222" stroke="#222" stroke-width="0.12" >5</text>
<line x1="113.90" y1="415.70" x2="113.90" y2="418.40" stroke="#3a3a3a" stroke-width="0.9" />
<text x="113.30" y="425.50" font-size="7.0" font-weight="normal" text-anchor="middle" fill="#222" stroke="#222" stroke-width="0.12" >10</text>
<line x1="147.60" y1="415.70" x2="147.60" y2="418.40" stroke="#3a3a3a" stroke-width="0.9" />
<text x="147.00" y="425.50" font-size="7.0" font-weight="normal" text-anchor="middle" fill="#222" stroke="#222" stroke-width="0.12" >15</text>
<line x1="181.30" y1="415.70" x2="181.30" y2="418.40" stroke="#3a3a3a" stroke-width="0.9" />
<text x="178.50" y="425.50" font-size="7.0" font-weight="normal" text-anchor="middle" fill="#222" stroke="#222" stroke-width="0.12" >20</text>
<line x1="188.80" y1="415.70" x2="188.80" y2="418.40" stroke="#3a3a3a" stroke-width="0.9" />
<text x="188.20" y="425.50" font-size="7.0" font-weight="normal" text-anchor="middle" fill="#222" stroke="#222" stroke-width="0.12" >0</text>
<line x1="222.70" y1="415.70" x2="222.70" y2="418.40" stroke="#3a3a3a" stroke-width="0.9" />
<text x="222.10" y="425.50" font-size="7.0" font-weight="normal" text-anchor="middle" fill="#222" stroke="#222" stroke-width="0.12" >5</text>
<line x1="256.60" y1="415.70" x2="256.60" y2="418.40" stroke="#3a3a3a" stroke-width="0.9" />
<text x="256.00" y="425.50" font-size="7.0" font-weight="normal" text-anchor="middle" fill="#222" stroke="#222" stroke-width="0.12" >10</text>
<line x1="290.50" y1="415.70" x2="290.50" y2="418.40" stroke="#3a3a3a" stroke-width="0.9" />
<text x="289.90" y="425.50" font-size="7.0" font-weight="normal" text-anchor="middle" fill="#222" stroke="#222" stroke-width="0.12" >15</text>
<line x1="324.40" y1="415.70" x2="324.40" y2="418.40" stroke="#3a3a3a" stroke-width="0.9" />
<text x="321.60" y="425.50" font-size="7.0" font-weight="normal" text-anchor="middle" fill="#222" stroke="#222" stroke-width="0.12" >20</text>
<line x1="330.60" y1="415.70" x2="330.60" y2="418.40" stroke="#3a3a3a" stroke-width="0.9" />
<text x="330.00" y="425.50" font-size="7.0" font-weight="normal" text-anchor="middle" fill="#222" stroke="#222" stroke-width="0.12" >0</text>
<line x1="364.50" y1="415.70" x2="364.50" y2="418.40" stroke="#3a3a3a" stroke-width="0.9" />
<text x="363.90" y="425.50" font-size="7.0" font-weight="normal" text-anchor="middle" fill="#222" stroke="#222" stroke-width="0.12" >5</text>
<line x1="398.40" y1="415.70" x2="398.40" y2="418.40" stroke="#3a3a3a" stroke-width="0.9" />
<text x="397.80" y="425.50" font-size="7.0" font-weight="normal" text-anchor="middle" fill="#222" stroke="#222" stroke-width="0.12" >10</text>
<line x1="432.30" y1="415.70" x2="432.30" y2="418.40" stroke="#3a3a3a" stroke-width="0.9" />
<text x="431.70" y="425.50" font-size="7.0" font-weight="normal" text-anchor="middle" fill="#222" stroke="#222" stroke-width="0.12" >15</text>
<line x1="466.20" y1="415.70" x2="466.20" y2="418.40" stroke="#3a3a3a" stroke-width="0.9" />
<text x="463.40" y="425.50" font-size="7.0" font-weight="normal" text-anchor="middle" fill="#222" stroke="#222" stroke-width="0.12" >20</text>
<text x="49.60" y="248.20" font-size="8.6" font-weight="normal" text-anchor="start" fill="#262626" stroke="#262626" stroke-width="0.12" >5mC</text>
<text x="191.80" y="248.20" font-size="8.6" font-weight="normal" text-anchor="start" fill="#262626" stroke="#262626" stroke-width="0.12" >5hmC</text>
<text x="333.60" y="248.20" font-size="8.6" font-weight="normal" text-anchor="start" fill="#262626" stroke="#262626" stroke-width="0.12" >G</text>
<text x="49.60" y="340.20" font-size="8.6" font-weight="normal" text-anchor="start" fill="#262626" stroke="#262626" stroke-width="0.12" >5mC-<tspan font-style="italic">d</tspan><tspan font-size="6" dy="1.8">3</tspan></text>
<text x="191.80" y="340.20" font-size="8.6" font-weight="normal" text-anchor="start" fill="#262626" stroke="#262626" stroke-width="0.12" >5hmC-<tspan font-style="italic">d</tspan><tspan font-size="6" dy="1.8">2</tspan></text>
<text x="334.60" y="340.20" font-size="8.6" font-weight="normal" text-anchor="start" fill="#262626" stroke="#262626" stroke-width="0.12" ><tspan font-size="5.2" dy="-3.3">15</tspan><tspan dy="3.3">N</tspan><tspan font-size="6" dy="1.8">5</tspan><tspan dy="-1.8">-G</tspan></text>
<text x="0" y="0" font-size="11.2" font-weight="bold" text-anchor="middle" fill="#111" stroke="#111" stroke-width="0.25" transform="translate(36.9,324.4) rotate(-90)">relative abundance</text>
<text x="272.90" y="441.60" font-size="11.2" font-weight="bold" text-anchor="middle" fill="#111" stroke="#111" stroke-width="0.25" >time (min)</text>
</svg>
</body></html>
